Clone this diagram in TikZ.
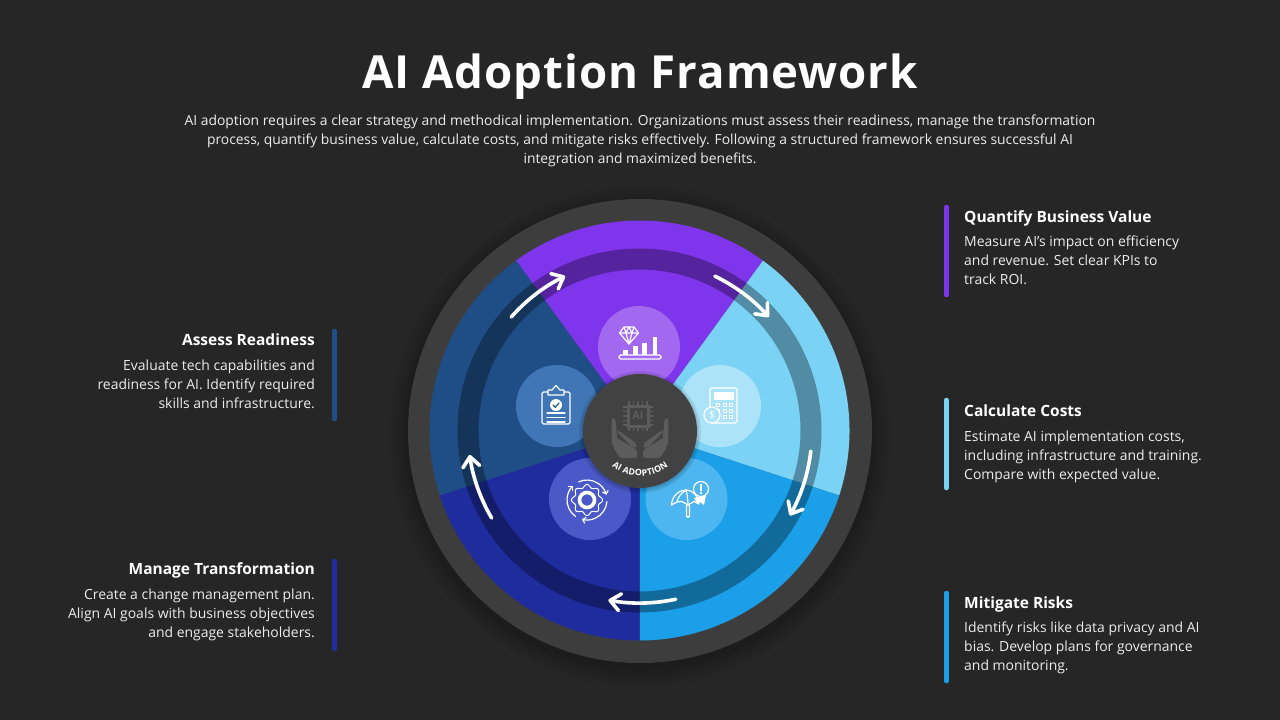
\documentclass[tikz,border=0pt]{standalone}
\usepackage{fontspec}
\setmainfont{Open Sans}
\usetikzlibrary{arrows.meta}
\definecolor{bgc}{HTML}{262626}
\definecolor{ringc}{HTML}{3D3D3D}
\definecolor{hubc}{HTML}{424242}
\definecolor{hubicon}{HTML}{5C5C5C}
\definecolor{pur}{HTML}{7F35EB}
\definecolor{nav}{HTML}{1F4E87}
\definecolor{dbl}{HTML}{1F2C9E}
\definecolor{bri}{HTML}{1B9FE8}
\definecolor{lig}{HTML}{7AD2F5}
\definecolor{bodyc}{HTML}{EDEDED}
\definecolor{dpur}{HTML}{A368F0}
\definecolor{dnav}{HTML}{4076B5}
\definecolor{dlig}{HTML}{ADE3F9}
\definecolor{ddbl}{HTML}{4A58C8}
\definecolor{dbri}{HTML}{4DB5EF}
\tikzset{
 flow/.style={white,line width=3.6pt,line cap=round,line join=round,-{Straight Barb[length=10pt,width=17pt,line width=3.6pt,round]}},
 ic/.style={white,line width=1.2pt,line join=round,line cap=round,fill=none},
 head/.style={font=\fontsize{15.5}{20}\selectfont\bfseries,text=white,inner sep=0pt},
 bodytxt/.style={font=\fontsize{13.95}{19}\selectfont,text=bodyc,inner sep=0pt},
 bar/.style={line width=4.5pt,line cap=round}
}
\begin{document}
\begin{tikzpicture}[x=1pt,y=-1pt]
\useasboundingbox (0,0) rectangle (1280,720);
\fill[bgc] (0,0) rectangle (1280,720);
% soft shadow
\foreach \r in {250,246,242,238,235}{\fill[black,opacity=.05] (640,436) circle[radius=\r];}
\fill[ringc] (640,431) circle[radius=232];
% wedges
\begin{scope}[shift={(639.5,430.5)}]
\foreach \c/\a/\b in {pur/-126/-54,lig/-54/18,bri/18/90,dbl/90/162,nav/162/234}{
 \fill[\c] (0,0) -- (\a:210) arc[start angle=\a,end angle=\b,radius=210] -- cycle;
}
\fill[black,opacity=.33,even odd rule] (0,0) circle[radius=182] (0,0) circle[radius=161];
\end{scope}
\begin{scope}[shift={(640,431)}]
\coordinate (a1s) at (-138.5:172);
\coordinate (a2s) at (-64.2:172);
\coordinate (a3s) at (6.7:172);
\coordinate (a4s) at (78:172);
\coordinate (a5s) at (149.6:172);
\end{scope}
% discs
\fill[dpur] (639,347) circle[radius=41];
\fill[dnav] (557,406) circle[radius=41];
\fill[dlig] (720,406) circle[radius=41];
\fill[ddbl] (590,499) circle[radius=41];
\fill[dbri] (686.5,499) circle[radius=41];
% arrows
\draw[flow] (a1s) arc[start angle=-138.5,end angle=-115.8,radius=172];
\draw[flow] (a2s) arc[start angle=-64.2,end angle=-41.5,radius=172];
\draw[flow] (a3s) arc[start angle=6.7,end angle=29.4,radius=172];
\draw[flow] (a4s) arc[start angle=78,end angle=100.6,radius=172];
\draw[flow] (a5s) arc[start angle=149.6,end angle=172,radius=172];
% hub
\foreach \r in {61,59.5,58}{\fill[black,opacity=.07] (640,432) circle[radius=\r];}
\fill[hubc] (640,431) circle[radius=57];
% chip
\begin{scope}[shift={(638,416)}]
\fill[hubicon] (-11.5,-11.5) rectangle (11.5,11.5);
\fill[hubc] (-8.5,-8.5) rectangle (8.5,8.5);
\foreach \p in {-9,-4.5,0,4.5,9}{
 \draw[hubicon,line width=1.7pt] (\p,-11) -- (\p,-15);
 \draw[hubicon,line width=1.7pt] (\p,11) -- (\p,15);
 \draw[hubicon,line width=1.7pt] (-11,\p) -- (-15,\p);
 \draw[hubicon,line width=1.7pt] (11,\p) -- (15,\p);
}
\node[font=\fontsize{11}{11}\selectfont\bfseries,text=hubicon,inner sep=0pt] (chiplabel) at (0,0) {AI};
\end{scope}
% hands
\foreach \sx in {1,-1}{
\begin{scope}[shift={(640,0)},xscale=\sx]
\fill[hubicon,rounded corners=1.5pt] (-28.5,420) -- (-26.5,417) -- (-24.5,420) -- (-23,436) -- (-22,442) -- (-28,446) -- cycle;
\fill[hubicon,rounded corners=1.5pt] (-23,438) -- (-3,450) -- (-3,458) -- (-20,458) -- (-27,447) -- cycle;
\fill[hubicon,rounded corners=1.5pt] (-24,431) -- (-21,431) -- (-4,443) -- (-3,448) -- (-8,447) -- cycle;
\end{scope}}
% curved hub label
\begin{scope}[shift={(640,431)}]
\foreach \ch/\an [count=\i] in {A/34.4,I/28.5,A/19.4,D/11.1,O/2.2,P/-6.1,T/-13.1,I/-18.5,O/-25,N/-34}{
 \node[font=\fontsize{8.8}{10}\selectfont\bfseries,text=white,inner sep=0pt,rotate=-\an] (hubletter\i) at ({90+\an}:42) {\ch};
}
\end{scope}
% diamond + chart icon
\draw[ic] (624,327) -- (634,327) -- (638.5,333) -- (629,344) -- (619.5,333) -- cycle;
\draw[ic] (619.5,333) -- (638.5,333) (624,327) -- (626,333) -- (629,344) -- (632,333) -- (634,327) (626,333) -- (629,327) -- (632,333);
\draw[ic,rounded corners=1.5pt] (619,355) rectangle (661,359);
\fill[white] (623,350) rectangle (628,355);
\fill[white] (632.5,346) rectangle (637.5,355);
\fill[white] (642,343) rectangle (647,355);
\fill[white] (653,337) rectangle (657,355);
% clipboard
\draw[ic,rounded corners=1.5pt] (542,392) rectangle (570,424);
\fill[dnav] (548,395) -- (548,390) -- (552,390) -- (556,385.5) -- (560,390) -- (564,390) -- (564,395) -- cycle;
\draw[ic] (548,395) -- (548,390) -- (552,390) -- (556,385.5) -- (560,390) -- (564,390) -- (564,395) -- cycle;
\fill[white] (556,405) circle[radius=6];
\draw[line width=1.2pt,draw=nav,line cap=round] (553,405) -- (555.3,407.2) -- (559,403);
\draw[ic] (547,413) -- (565,413) (547,417.5) -- (565,417.5) (547,422) -- (565,422);
% calculator
\draw[ic,rounded corners=1.5pt] (710,388) rectangle (737,423);
\fill[white] (714,392) rectangle (734,400);
\foreach \x in {718,724.5,731}{\foreach \y in {405,411,417}{\draw[white,line width=.8pt] (\x-1.5,\y-1.5) rectangle (\x+1.5,\y+1.5);}}
\fill[dlig] (712,415) circle[radius=8];
\draw[ic] (712,415) circle[radius=8];
\node[font=\fontsize{10}{10}\selectfont,text=white,inner sep=0pt] (dollar) at (712,415) {\$};
% umbrella
\draw[ic] (671.5,505) .. controls (672,495) and (680,490) .. (686,490) .. controls (693,490) and (698,496) .. (699,504) -- (694,501.5) -- (688,505) -- (682,501.5) -- (677,502) -- cycle;
\draw[ic] (686.5,505) -- (686.5,516) arc[start angle=180,end angle=0,radius=1.5] -- (689.5,505);
\draw[ic] (686,490) .. controls (681,493) and (678,497) .. (677,502);
\draw[ic] (686,490) .. controls (687,494) and (688,499) .. (688,505);
\draw[ic] (701,489) circle[radius=7.5];
\fill[white] (700,483.5) rectangle (702,490.5);
\fill[white] (701,493) circle[radius=1.3];
\fill[white] (694,498) -- (700,496.5) -- (706,495) -- (704,505) -- (700,502) -- (697,504) -- cycle;
% gear and arrows
\begin{scope}[shift={(587,500)}]
\draw[white,line width=1pt] plot[domain=0:355,samples=72,smooth cycle] (\x:{14+1.6*cos(8*\x)});
\draw[white,line width=3.6pt] (0,0) circle[radius=7.5];
\foreach \a/\b in {-115/-15,5/105,125/225}{
 \draw[ic,-{Straight Barb[length=3pt,width=6pt]}] (\a:20) arc[start angle=\a,end angle=\b,radius=20];
}
\end{scope}
% title and intro
\node[font=\fontsize{45.6}{50}\selectfont\bfseries,text=white,inner sep=0pt] (title) at (640,77) {\addfontfeature{LetterSpace=2}AI Adoption Framework};
\node[font=\fontsize{13.88}{19.2}\selectfont,text=bodyc,align=center,inner sep=0pt,anchor=north] (intro) at (640,114.5) {AI adoption requires a clear strategy and methodical implementation. Organizations must assess their readiness, manage the transformation\\process, quantify business value, calculate costs, and mitigate risks effectively. Following a structured framework ensures successful AI\\integration and maximized benefits.};
% right side
\draw[bar,draw=pur] (946.5,207) -- (946.5,295);
\node[head,anchor=base west] (h1) at (964,222.5) {Quantify Business Value};
\node[bodytxt,align=left,anchor=north west] (b1) at (964,235.5) {Measure AI's impact on efficiency\\and revenue. Set clear KPIs to\\track ROI.};
\draw[bar,draw=lig] (946.5,400) -- (946.5,488);
\node[head,anchor=base west] (h2) at (964,416.5) {Calculate Costs};
\node[bodytxt,align=left,anchor=north west] (b2) at (964,430.5) {Estimate AI implementation costs,\\including infrastructure and training.\\Compare with expected value.};
\draw[bar,draw=bri] (946.5,593) -- (946.5,681);
\node[head,anchor=base west] (h3) at (964,608.5) {Mitigate Risks};
\node[bodytxt,align=left,anchor=north west] (b3) at (964,621.5) {Identify risks like data privacy and AI\\bias. Develop plans for governance\\and monitoring.};
% left side
\draw[bar,draw=nav] (334.5,331) -- (334.5,419);
\node[head,anchor=base east] (h4) at (315,345.5) {Assess Readiness};
\node[bodytxt,align=right,anchor=north east] (b4) at (315,359.5) {Evaluate tech capabilities and\\readiness for AI. Identify required\\skills and infrastructure.};
\draw[bar,draw=dbl] (334.5,561) -- (334.5,649);
\node[head,anchor=base east] (h5) at (315,574.5) {Manage Transformation};
\node[bodytxt,align=right,anchor=north east] (b5) at (315,588.5) {Create a change management plan.\\Align AI goals with business objectives\\and engage stakeholders.};
\end{tikzpicture}
\end{document}
